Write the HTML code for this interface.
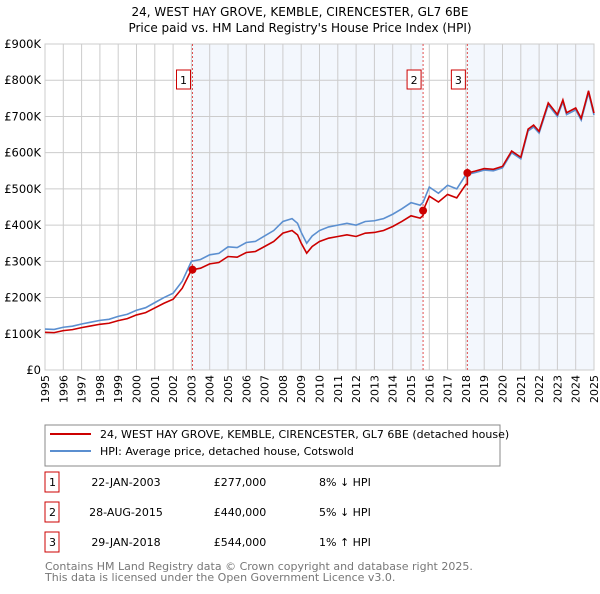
<!DOCTYPE html>
<html><head><meta charset="utf-8"><style>
body{margin:0;background:#fff;font-family:"DejaVu Sans","Liberation Sans",sans-serif;}
svg text{font-family:"DejaVu Sans","Liberation Sans",sans-serif;}
</style></head><body>
<svg id="c" width="600" height="590" xmlns="http://www.w3.org/2000/svg">
<text x="300" y="16" text-anchor="middle" font-size="12">24, WEST HAY GROVE, KEMBLE, CIRENCESTER, GL7 6BE</text>
<text x="300" y="32" text-anchor="middle" font-size="12">Price paid vs. HM Land Registry's House Price Index (HPI)</text>
<g id="plot"></g>
<g>
<rect x="45" y="425" width="455" height="41" fill="#fff" stroke="#888"/>
<line x1="50" y1="434" x2="91" y2="434" stroke="#cc0000" stroke-width="2"/>
<text x="100" y="438" font-size="11">24, WEST HAY GROVE, KEMBLE, CIRENCESTER, GL7 6BE (detached house)</text>
<line x1="50" y1="451" x2="91" y2="451" stroke="#5b8fd0" stroke-width="2"/>
<text x="100" y="455" font-size="11">HPI: Average price, detached house, Cotswold</text>
</g>
<g id="table" font-size="11"></g>
<text x="45" y="570" font-size="11" fill="#777">Contains HM Land Registry data © Crown copyright and database right 2025.</text>
<text x="45" y="581" font-size="11" fill="#777">This data is licensed under the Open Government Licence v3.0.</text>
</svg>
<script>
const hpiYears=[1995,1995.5,1996,1996.5,1997,1997.5,1998,1998.5,1999,1999.5,2000,2000.5,2001,2001.5,2002,2002.5,2003,2003.5,2004,2004.5,2005,2005.5,2006,2006.5,2007,2007.5,2008,2008.5,2008.8,2009,2009.3,2009.6,2010,2010.5,2011,2011.5,2012,2012.5,2013,2013.5,2014,2014.5,2015,2015.5,2015.66,2016,2016.5,2017,2017.5,2018,2018.5,2019,2019.5,2020,2020.5,2021,2021.4,2021.7,2022,2022.5,2023,2023.3,2023.5,2024,2024.3,2024.7,2025];
const hpiValues=[113,112,118,121,127,132,137,140,148,154,165,172,186,200,212,245,300,305,318,322,340,338,352,355,370,385,410,418,405,380,350,370,385,395,400,405,400,410,412,418,430,445,462,455,463,505,488,510,500,539,545,552,550,558,600,583,660,671,654,732,700,740,705,718,690,765,704];
const saleYears=[2003.06,2015.66,2018.08];
const salePrices=[277,440,544];
const saleDates=["22-JAN-2003","28-AUG-2015","29-JAN-2018"];
const saleLabels=["£277,000","£440,000","£544,000"];
const saleDiffs=["8% ↓ HPI","5% ↓ HPI","1% ↑ HPI"];
const yTicks=[0,100,200,300,400,500,600,700,800,900];
const yTickLabels=["£0","£100K","£200K","£300K","£400K","£500K","£600K","£700K","£800K","£900K"];
const xTicks=[1995,1996,1997,1998,1999,2000,2001,2002,2003,2004,2005,2006,2007,2008,2009,2010,2011,2012,2013,2014,2015,2016,2017,2018,2019,2020,2021,2022,2023,2024,2025];

const X0=45,X1=594,Y0=370,Y1=44;
const xs=y=>X0+(y-1995)/30*(X1-X0);
const ys=v=>Y0-v/900*(Y0-Y1);
const NS="http://www.w3.org/2000/svg";
const plot=document.getElementById('plot');
function mk(tag,attrs,parent){const e=document.createElementNS(NS,tag);for(const k in attrs)e.setAttribute(k,attrs[k]);(parent||plot).appendChild(e);return e;}
function hpiAt(t){for(let i=0;i<hpiYears.length-1;i++){if(t<=hpiYears[i+1]){const f=(t-hpiYears[i])/(hpiYears[i+1]-hpiYears[i]);return hpiValues[i]+f*(hpiValues[i+1]-hpiValues[i]);}}return hpiValues[hpiValues.length-1];}

let r=mk('rect',{x:xs(saleYears[0]),y:Y1,width:xs(saleYears[1])-xs(saleYears[0]),height:Y0-Y1,fill:'#eef3fc',opacity:0.7});


r=mk('rect',{x:xs(saleYears[2]),y:Y1,width:X1-xs(saleYears[2]),height:Y0-Y1,fill:'#eef3fc',opacity:0.7});


yTicks.forEach((v,i)=>{
 const l=mk('line',{x1:X0,x2:X1,y1:ys(v),y2:ys(v),stroke:'#ccc'});
 
 
 const t=mk('text',{x:X0-4,y:ys(v)+4,'text-anchor':'end','font-size':'11.5'});
 t.textContent=yTickLabels[i];
 
 
});
xTicks.forEach(y=>{
 const l=mk('line',{x1:xs(y),x2:xs(y),y1:Y1,y2:Y0,stroke:'#ccc'});
 
 
 const tx=xs(y)+4,ty=375;
 const t=mk('text',{x:tx,y:ty,'text-anchor':'end','font-size':'11',transform:'rotate(-90 '+tx+' '+ty+')'});
 t.textContent=y;
 
 
});
const b=mk('rect',{x:X0,y:Y1,width:X1-X0,height:Y0-Y1,fill:'none',stroke:'#ccc'});


saleYears.forEach((s,i)=>{
 const l=mk('line',{x1:xs(s),x2:xs(s),y1:Y1,y2:Y0,stroke:'#e05050','stroke-dasharray':'2,2'});
 
 
 const bx=mk('rect',{x:xs(s)-16,y:70,width:14,height:19,fill:'#fff',stroke:'#cc0000'});
 
 
 const t=mk('text',{x:xs(s)-9,y:84,'text-anchor':'middle','font-size':'11'});
 t.textContent=i+1;
 
 
});
const hp=mk('polyline',{points:hpiYears.map((y,i)=>xs(y)+','+ys(hpiValues[i])).join(' '),fill:'none',stroke:'#5b8fd0','stroke-width':1.6});


function ratioAt(t){let k=0;for(let i=0;i<saleYears.length;i++)if(t>=saleYears[i])k=i;return salePrices[k]/hpiAt(saleYears[k]);}
const pts=[];
hpiYears.forEach((y,i)=>{
 saleYears.forEach((s,k)=>{if(s>(i?hpiYears[i-1]:0)&&s<=y){if(k>0)pts.push(xs(s)+','+ys(hpiAt(s)*salePrices[k-1]/hpiAt(saleYears[k-1])));pts.push(xs(s)+','+ys(salePrices[k]));}});
 pts.push(xs(y)+','+ys(hpiValues[i]*ratioAt(y)));
});
const pl=mk('polyline',{points:pts.join(' '),fill:'none',stroke:'#cc0000','stroke-width':1.6});


saleYears.forEach((s,i)=>{
 const c=mk('circle',{cx:xs(s),cy:ys(salePrices[i]),r:4,fill:'#cc0000'});
 
 
});
const tb=document.getElementById('table');
saleYears.forEach((s,i)=>{
 const y=482+i*30;
 const bx=mk('rect',{x:45,y:y-10,width:14,height:20,fill:'#fff',stroke:'#cc0000'},tb);
 
 
 const cells=[[i+1,49,'start'],[saleDates[i],126,'middle'],[saleLabels[i],240,'middle'],[saleDiffs[i],319,'start']];
 cells.forEach((c,j)=>{
  const t=mk('text',{x:c[1],y:y+4,'text-anchor':c[2]},tb);
  t.textContent=c[0];
  
  
 });
});
</script>
</body></html>
